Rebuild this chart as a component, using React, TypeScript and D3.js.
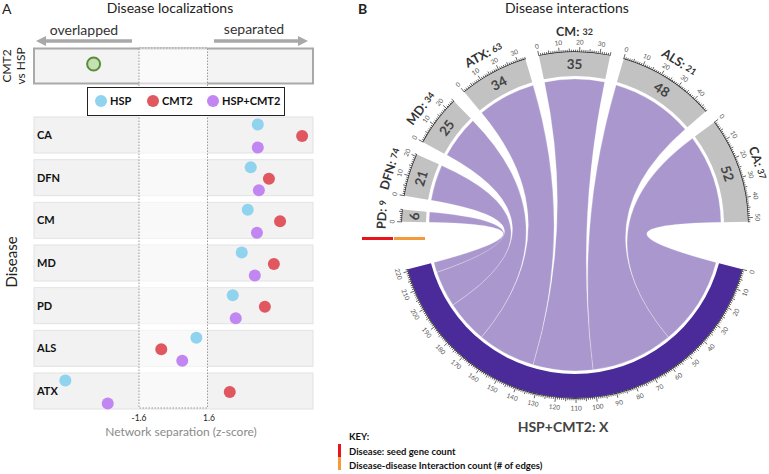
import React, { useEffect } from "react";
import * as d3 from "d3";

// ---------- Panel A data ----------
const rowsA = ["CA", "DFN", "CM", "MD", "PD", "ALS", "ATX"];
const hspZ = [3.95, 3.62, 3.48, 3.2, 2.78, 1.08, -5.04];
const cmt2Z = [6.02, 4.47, 4.99, 4.7, 4.28, -0.56, 2.64];
const bothZ = [3.95, 4.0, 3.91, 3.81, 2.92, 0.42, -3.06];
const cmt2VsHspZ = -3.72;
const zTicks = [-1.6, 1.6];
const legendNames = ["HSP", "CMT2", "HSP+CMT2"];

// ---------- Panel B data ----------
const diseases = ["PD", "DFN", "MD", "ATX", "CM", "ALS", "CA"];
const seedGenes = [9, 74, 34, 63, 32, 21, 37];
const edgeCounts = [6, 21, 25, 34, 35, 48, 52];
const hubName = "HSP+CMT2";
const hubSeed = "X";

const COLORS = { hsp: "#8fd3ef", cmt2: "#e0575f", both: "#c286f2" };
const FONT = "Lato, 'Open Sans', sans-serif";

function PanelA() {
  const x = d3.scaleLinear().domain([-1.6, 1.6]).range([139, 207.5]);
  const y = d3.scaleBand<string>().domain(rowsA).range([117, 409]).paddingInner(0.156).paddingOuter(0);
  const left = 34, right = 313;
  const bw = y.bandwidth();
  return (
    <g fontFamily={FONT}>
      <text x={2} y={14} fontSize={14} fill="#222">A</text>
      <text x={170} y={13} fontSize={14} fill="#222" textAnchor="middle">Disease localizations</text>
      {/* direction arrows */}
      <text x={84} y={35} fontSize={14} fill="#333" textAnchor="middle">overlapped</text>
      <text x={254} y={34} fontSize={14} fill="#333" textAnchor="middle">separated</text>
      <line x1={132} x2={44} y1={41} y2={41} stroke="#a8a8a8" strokeWidth={3.5} />
      <path d="M36,41 L46,36 L46,46 Z" fill="#a8a8a8" />
      <line x1={214} x2={300} y1={41} y2={41} stroke="#a8a8a8" strokeWidth={3.5} />
      <path d="M308,41 L298,36 L298,46 Z" fill="#a8a8a8" />
      {/* CMT2 vs HSP box */}
      <rect x={left} y={48.5} width={right - left} height={35} fill="#f3f3f3" stroke="#a9a9a9" strokeWidth={2} />
      {/* disease rows */}
      {rowsA.map((r) => (
        <rect key={r} x={left} y={y(r)} width={right - left} height={bw} fill="#f2f2f2" stroke="#e2e2e2" strokeWidth={1} />
      ))}
      {/* neutral zone */}
      <rect x={x(-1.6)} y={48} width={x(1.6) - x(-1.6)} height={360} fill="#ffffff" fillOpacity={0.55} stroke="#9a9a9a" strokeWidth={1} strokeDasharray="1.5,1.5" />
      {/* legend */}
      <rect x={87.5} y={87.5} width={197} height={28} fill="#fff" stroke="#222" strokeWidth={1} />
      {[COLORS.hsp, COLORS.cmt2, COLORS.both].map((c, i) => {
        const cxs = [101, 153, 213][i];
        return (
          <g key={i}>
            <circle cx={cxs} cy={101} r={6} fill={c} />
            <text x={cxs + 9} y={105} fontSize={11} fontWeight="bold" fill="#111">{legendNames[i]}</text>
          </g>
        );
      })}
      {/* points */}
      <circle cx={x(cmt2VsHspZ)} cy={64} r={6.5} fill="#c6e0b3" stroke="#5b8c3b" strokeWidth={2} />
      {rowsA.map((r, i) => {
        const top = y(r) as number;
        return (
          <g key={r}>
            <text x={37} y={top + bw / 2 + 4} fontSize={11} fontWeight="bold" fill="#111">{r}</text>
            <circle cx={x(hspZ[i])} cy={top + 7.5} r={6} fill={COLORS.hsp} />
            <circle cx={x(cmt2Z[i])} cy={top + 19} r={6} fill={COLORS.cmt2} />
            <circle cx={x(bothZ[i])} cy={top + 30.5} r={6} fill={COLORS.both} />
          </g>
        );
      })}
      {zTicks.map((t) => (
        <text key={t} x={x(t) + (t > 0 ? 1.5 : 0)} y={421} fontSize={8.5} fill="#222" textAnchor="middle">{t}</text>
      ))}
      <text x={181} y={436} fontSize={12} fill="#8a8a8a" textAnchor="middle">Network separation (z-score)</text>
      <text transform="translate(17,262) rotate(-90)" fontSize={15} fill="#222" textAnchor="middle">Disease</text>
      <text transform="translate(11,66) rotate(-90)" fontSize={12} fill="#222" textAnchor="middle">CMT2</text>
      <text transform="translate(25,66) rotate(-90)" fontSize={12} fill="#222" textAnchor="middle">vs HSP</text>
    </g>
  );
}

function PanelB() {
  const cx = 575, cy = 225;
  const rIn = 149, rOut = 173, rRib = 146;
  const k = 0.68; // degrees per unit
  const gapSmall = 4.6;
  const hubTotal = d3.sum(edgeCounts);
  const hubStart = 180 - (hubTotal * k) / 2;
  const hubEnd = hubStart + hubTotal * k;
  const gapBig = (360 - 2 * hubTotal * k - gapSmall * (diseases.length - 1)) / 2;
  const rad = Math.PI / 180;

  type G = { name: string; seed: string | number; value: number; start: number; end: number; hub: boolean };
  const groups: G[] = [];
  let a = hubEnd + gapBig;
  diseases.forEach((d, i) => {
    groups.push({ name: d, seed: seedGenes[i], value: edgeCounts[i], start: a, end: a + edgeCounts[i] * k, hub: false });
    a += edgeCounts[i] * k + gapSmall;
  });
  const hub: G = { name: hubName, seed: hubSeed, value: hubTotal, start: hubStart, end: hubEnd, hub: true };

  // hub segments: CA first at the hub start, PD last
  const hubSegs: { s: number; e: number }[] = new Array(diseases.length);
  let h = hubStart;
  for (let i = diseases.length - 1; i >= 0; i--) {
    hubSegs[i] = { s: h, e: h + edgeCounts[i] * k };
    h += edgeCounts[i] * k;
  }

  const arc = d3.arc<any>();
  const ribbon = d3.ribbon<any, any>().radius(rRib);
  const pos = (r: number, deg: number) => [r * Math.sin(deg * rad), -r * Math.cos(deg * rad)];

  const bandPath = (g: G) =>
    arc({ innerRadius: rIn, outerRadius: rOut, startAngle: g.start * rad, endAngle: g.end * rad }) as string;
  const lineArc = (g: G) =>
    arc({ innerRadius: rOut, outerRadius: rOut + 0.7, startAngle: g.start * rad, endAngle: g.end * rad }) as string;

  const rot = (g: G, deg: number) => (g.hub ? deg - 180 : deg);

  const renderTicks = (g: G) => {
    const items: JSX.Element[] = [];
    for (let v = 0; v <= g.value; v++) {
      const ang = g.start + v * k;
      const major = v % 10 === 0;
      const mid = v % 5 === 0;
      const len = major ? 5 : mid ? 3.5 : 2.3;
      const [x1, y1] = pos(rOut, ang);
      const [x2, y2] = pos(rOut + len, ang);
      items.push(<line key={"t" + v} x1={x1} y1={y1} x2={x2} y2={y2} stroke="#222" strokeWidth={0.7} />);
      if (major) {
        const [tx, ty] = pos(rOut + 10, ang);
        items.push(
          <text key={"l" + v} transform={`translate(${tx},${ty}) rotate(${rot(g, ang)})`} fontSize={6.5}
            fill="#555" textAnchor="middle" dominantBaseline="central">{v}</text>
        );
      }
    }
    return items;
  };

  return (
    <g fontFamily={FONT}>
      <text x={358} y={14} fontSize={14} fontWeight="bold" fill="#222">B</text>
      <text x={567} y={13} fontSize={14} fill="#222" textAnchor="middle">Disease interactions</text>
      <g transform={`translate(${cx},${cy})`}>
        {groups.map((g, i) => (
          <path key={"rib" + i}
            d={ribbon({
              source: { startAngle: g.start * rad, endAngle: g.end * rad },
              target: { startAngle: hubSegs[i].s * rad, endAngle: hubSegs[i].e * rad },
            }) as unknown as string}
            fill="#a997cd" stroke="#ffffff" strokeOpacity={0.45} strokeWidth={0.6} />
        ))}
        {groups.map((g) => (
          <path key={"band" + g.name} d={bandPath(g)} fill="#c2c2c2" />
        ))}
        <path d={bandPath(hub)} fill="#4b2a99" />
        {[...groups, hub].map((g) => (
          <g key={"ax" + g.name}>
            <path d={lineArc(g)} fill="#222" />
            {renderTicks(g)}
          </g>
        ))}
        {groups.map((g) => {
          const mid = (g.start + g.end) / 2;
          const [vx, vy] = pos((rIn + rOut) / 2, mid);
          const [lx, ly] = pos(194, mid);
          return (
            <g key={"lab" + g.name}>
              <text transform={`translate(${vx},${vy}) rotate(${mid})`} fontSize={13.5} fontWeight="bold"
                fill="#444" textAnchor="middle" dominantBaseline="central">{g.value}</text>
              <text transform={`translate(${lx},${ly}) rotate(${mid})`} fontWeight="bold" fill="#333"
                textAnchor="middle" dominantBaseline="central">
                <tspan fontSize={12.5}>{g.name}: </tspan>
                <tspan fontSize={9}>{g.seed}</tspan>
              </text>
            </g>
          );
        })}
      </g>
      <text x={563} y={432} fontWeight="bold" fill="#444" textAnchor="middle">
        <tspan fontSize={14}>{hub.name}: {hub.seed}</tspan>
      </text>
      {/* label-part markers by PD */}
      <rect x={362} y={237} width={31} height={3} fill="#e8131b" />
      <rect x={394} y={237} width={31} height={3} fill="#f39a3a" />
      {/* key */}
      <rect x={338} y={444} width={3} height={13} fill="#e8131b" />
      <rect x={338} y={457} width={3} height={13} fill="#f39a3a" />
      <text x={349} y={440} fontSize={9.5} fontWeight="bold" fill="#111">KEY:</text>
      <text x={349} y={455} fontSize={9.5} fontWeight="bold" fill="#111">Disease: seed gene count</text>
      <text x={349} y={469} fontSize={9.5} fontWeight="bold" fill="#111">Disease-disease Interaction count (# of edges)</text>
    </g>
  );
}

export default function App() {
  useEffect(() => {
    document.body.style.margin = "0";
  }, []);
  return (
    <svg width={769} height={474} style={{ position: "absolute", left: 0, top: 0, background: "#fff" }}>
      <rect width={769} height={474} fill="#fff" />
      <PanelA />
      <PanelB />
    </svg>
  );
}
